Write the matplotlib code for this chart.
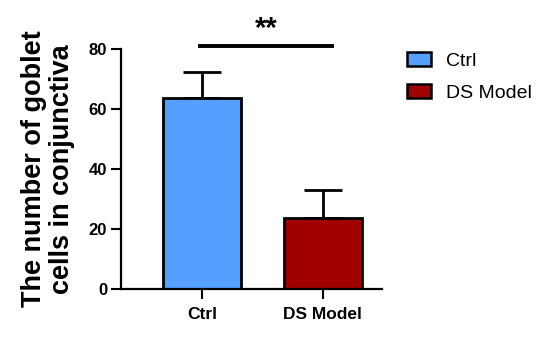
import numpy as np
import matplotlib.pyplot as plt
from matplotlib.patches import Patch

groups = ['Ctrl', 'DS Model']
means = [63.5, 23.7]
errs = [8.8, 9.3]
colors = ['#559fff', '#a00000']
yticks = [0, 20, 40, 60, 80]

plt.rcParams['font.family'] = ['Liberation Sans', 'DejaVu Sans']

fig = plt.figure(figsize=(5.52, 3.45), dpi=100)
ax = fig.add_axes([0.2192, 0.1623, 0.4728, 0.6971])

x = np.arange(len(groups))
ax.bar(x, means, width=0.65, color=colors, edgecolor='black', linewidth=2, zorder=2)
ax.errorbar(x, means, yerr=[[0, 0], errs], fmt='none', ecolor='black',
            elinewidth=2, capsize=14, capthick=2, zorder=1)

ax.set_xlim(-0.67, 1.49)
ax.set_ylim(0, 80)
ax.set_yticks(yticks)
ax.set_xticks(x)
ax.set_xticklabels(groups, fontsize=12.5, fontweight='bold')
for lab in ax.get_yticklabels():
    lab.set_fontsize(12)
    lab.set_fontweight('bold')
ax.tick_params(axis='both', width=1.5, length=7, direction='out', pad=3)
ax.tick_params(axis='x', pad=6)

for s in ['top', 'right']:
    ax.spines[s].set_visible(False)
for s in ['left', 'bottom']:
    ax.spines[s].set_linewidth(1.6)

ax.set_ylabel('The number of goblet\ncells in conjunctiva', fontsize=19.5,
              fontweight='bold', linespacing=1.1, labelpad=10)

# significance bar
ax.plot([-0.02, 1.08], [80.7, 80.7], color='black', lw=2.8, clip_on=False)
ax.text(0.53, 82.0, '**', ha='center', va='bottom', fontsize=21, fontweight='bold')

handles = [Patch(facecolor=c, edgecolor='black', linewidth=1.8) for c in colors]
fig.legend(handles, groups, loc='upper left', bbox_to_anchor=(0.705, 0.9),
           frameon=False, fontsize=14, handlelength=1.25, handleheight=0.7,
           labelspacing=0.75, handletextpad=0.75)

fig.savefig('out.png', dpi=100)
